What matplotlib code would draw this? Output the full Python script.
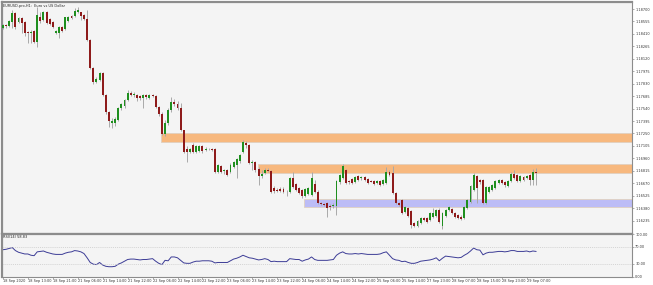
import numpy as np
import matplotlib
matplotlib.use("Agg")
import matplotlib.pyplot as plt

# EURUSD H1 candles
opens = [1.1848, 1.1851, 1.1850, 1.1855, 1.1865, 1.1855, 1.1860, 1.1855, 1.1843, 1.1842,
         1.1844, 1.1832, 1.1861, 1.1857, 1.1866, 1.1858, 1.1855, 1.1842, 1.1842, 1.1849,
         1.1847, 1.1856, 1.1862, 1.1862, 1.1866, 1.1866, 1.1863, 1.1858, 1.1834, 1.1801,
         1.1785, 1.1787, 1.1796, 1.1770, 1.1750, 1.1737, 1.1737, 1.1741, 1.1755, 1.1757,
         1.1764, 1.1772, 1.1770, 1.1770, 1.1769, 1.1766, 1.1770, 1.1766, 1.1770, 1.1769,
         1.1756, 1.1748, 1.1724, 1.1737, 1.1752, 1.1762, 1.1759, 1.1755, 1.1729, 1.1707,
         1.1703, 1.1712, 1.1703, 1.1705, 1.1710, 1.1706, 1.1707, 1.1707, 1.1707, 1.1680,
         1.1687, 1.1681, 1.1682, 1.1680, 1.1686, 1.1688, 1.1693, 1.1703, 1.1714, 1.1712,
         1.1691, 1.1692, 1.1684, 1.1675, 1.1679, 1.1682, 1.1681, 1.1661, 1.1659, 1.1660,
         1.1660, 1.1658, 1.1657, 1.1673, 1.1666, 1.1661, 1.1659, 1.1652, 1.1654, 1.1653,
         1.1666, 1.1657, 1.1644, 1.1643, 1.1644, 1.1640, 1.1640, 1.1640, 1.1668, 1.1673,
         1.1682, 1.1670, 1.1672, 1.1668, 1.1675, 1.1673, 1.1674, 1.1672, 1.1670, 1.1670,
         1.1667, 1.1670, 1.1666, 1.1667, 1.1680, 1.1679, 1.1656, 1.1644, 1.1647, 1.1633,
         1.1638, 1.1635, 1.1621, 1.1617, 1.1621, 1.1626, 1.1626, 1.1624, 1.1628, 1.1629,
         1.1636, 1.1617, 1.1629, 1.1636, 1.1637, 1.1632, 1.1630, 1.1628, 1.1626, 1.1638,
         1.1645, 1.1659, 1.1675, 1.1671, 1.1671, 1.1644, 1.1657, 1.1659, 1.1661, 1.1667,
         1.1671, 1.1668, 1.1664, 1.1670, 1.1678, 1.1677, 1.1670, 1.1674, 1.1673, 1.1677,
         1.1671, 1.1680]
highs = [1.1853, 1.1853, 1.1857, 1.1869, 1.1866, 1.1861, 1.1861, 1.1856, 1.1844, 1.1846,
         1.1846, 1.1872, 1.1866, 1.1868, 1.1868, 1.1860, 1.1856, 1.1846, 1.1850, 1.1850,
         1.1861, 1.1862, 1.1863, 1.1871, 1.1872, 1.1867, 1.1864, 1.1869, 1.1835, 1.1802,
         1.1791, 1.1797, 1.1797, 1.1771, 1.1751, 1.1743, 1.1744, 1.1756, 1.1760, 1.1765,
         1.1776, 1.1774, 1.1773, 1.1771, 1.1770, 1.1771, 1.1771, 1.1771, 1.1771, 1.1770,
         1.1757, 1.1750, 1.1741, 1.1755, 1.1768, 1.1765, 1.1763, 1.1760, 1.1729, 1.1710,
         1.1708, 1.1714, 1.1712, 1.1712, 1.1712, 1.1709, 1.1708, 1.1708, 1.1708, 1.1689,
         1.1688, 1.1684, 1.1684, 1.1691, 1.1693, 1.1696, 1.1701, 1.1717, 1.1716, 1.1713,
         1.1694, 1.1693, 1.1686, 1.1682, 1.1685, 1.1685, 1.1682, 1.1664, 1.1661, 1.1663,
         1.1663, 1.1659, 1.1674, 1.1680, 1.1667, 1.1663, 1.1660, 1.1661, 1.1663, 1.1680,
         1.1671, 1.1659, 1.1645, 1.1644, 1.1645, 1.1643, 1.1644, 1.1671, 1.1678, 1.1689,
         1.1684, 1.1671, 1.1673, 1.1675, 1.1677, 1.1675, 1.1675, 1.1673, 1.1671, 1.1671,
         1.1671, 1.1671, 1.1672, 1.1686, 1.1682, 1.1687, 1.1657, 1.1645, 1.1649, 1.1640,
         1.1639, 1.1636, 1.1622, 1.1624, 1.1628, 1.1628, 1.1628, 1.1633, 1.1638, 1.1637,
         1.1638, 1.1633, 1.1637, 1.1640, 1.1638, 1.1633, 1.1631, 1.1630, 1.1640, 1.1649,
         1.1665, 1.1679, 1.1677, 1.1672, 1.1672, 1.1664, 1.1664, 1.1666, 1.1671, 1.1672,
         1.1672, 1.1670, 1.1671, 1.1680, 1.1682, 1.1678, 1.1677, 1.1675, 1.1677, 1.1678,
         1.1684, 1.1685]
lows = [1.1847, 1.1848, 1.1849, 1.1848, 1.1847, 1.1854, 1.1842, 1.1839, 1.1830, 1.1830,
        1.1830, 1.1826, 1.1854, 1.1856, 1.1853, 1.1851, 1.1848, 1.1841, 1.1836, 1.1843,
        1.1846, 1.1855, 1.1858, 1.1861, 1.1865, 1.1857, 1.1857, 1.1833, 1.1800, 1.1783,
        1.1784, 1.1786, 1.1769, 1.1748, 1.1732, 1.1731, 1.1734, 1.1740, 1.1752, 1.1755,
        1.1763, 1.1769, 1.1768, 1.1763, 1.1764, 1.1755, 1.1765, 1.1765, 1.1768, 1.1755,
        1.1745, 1.1723, 1.1722, 1.1735, 1.1750, 1.1757, 1.1752, 1.1728, 1.1702, 1.1692,
        1.1702, 1.1702, 1.1702, 1.1703, 1.1702, 1.1705, 1.1706, 1.1705, 1.1679, 1.1679,
        1.1679, 1.1678, 1.1675, 1.1679, 1.1685, 1.1673, 1.1691, 1.1702, 1.1708, 1.1689,
        1.1682, 1.1680, 1.1665, 1.1673, 1.1678, 1.1680, 1.1656, 1.1656, 1.1657, 1.1657,
        1.1656, 1.1652, 1.1656, 1.1661, 1.1658, 1.1654, 1.1650, 1.1651, 1.1653, 1.1652,
        1.1656, 1.1643, 1.1642, 1.1640, 1.1628, 1.1636, 1.1638, 1.1630, 1.1666, 1.1672,
        1.1666, 1.1666, 1.1666, 1.1667, 1.1670, 1.1671, 1.1670, 1.1666, 1.1668, 1.1665,
        1.1666, 1.1664, 1.1665, 1.1666, 1.1675, 1.1654, 1.1643, 1.1640, 1.1631, 1.1632,
        1.1628, 1.1615, 1.1616, 1.1616, 1.1620, 1.1623, 1.1621, 1.1623, 1.1626, 1.1628,
        1.1621, 1.1614, 1.1628, 1.1635, 1.1631, 1.1626, 1.1625, 1.1624, 1.1625, 1.1637,
        1.1644, 1.1658, 1.1644, 1.1666, 1.1643, 1.1643, 1.1656, 1.1658, 1.1660, 1.1666,
        1.1666, 1.1663, 1.1663, 1.1668, 1.1672, 1.1668, 1.1668, 1.1670, 1.1672, 1.1665,
        1.1665, 1.1665]
closes = [1.1851, 1.1850, 1.1856, 1.1865, 1.1849, 1.1860, 1.1854, 1.1842, 1.1842, 1.1843,
          1.1832, 1.1863, 1.1856, 1.1866, 1.1854, 1.1853, 1.1849, 1.1844, 1.1849, 1.1844,
          1.1861, 1.1861, 1.1860, 1.1868, 1.1869, 1.1862, 1.1858, 1.1834, 1.1801, 1.1785,
          1.1789, 1.1796, 1.1770, 1.1750, 1.1740, 1.1740, 1.1742, 1.1755, 1.1759, 1.1764,
          1.1772, 1.1770, 1.1771, 1.1766, 1.1766, 1.1770, 1.1768, 1.1770, 1.1769, 1.1756,
          1.1748, 1.1724, 1.1737, 1.1752, 1.1762, 1.1759, 1.1755, 1.1729, 1.1703, 1.1703,
          1.1707, 1.1703, 1.1710, 1.1710, 1.1705, 1.1707, 1.1707, 1.1706, 1.1680, 1.1688,
          1.1680, 1.1682, 1.1677, 1.1688, 1.1692, 1.1695, 1.1700, 1.1715, 1.1712, 1.1691,
          1.1692, 1.1682, 1.1675, 1.1678, 1.1682, 1.1681, 1.1657, 1.1658, 1.1658, 1.1658,
          1.1657, 1.1658, 1.1673, 1.1663, 1.1659, 1.1656, 1.1652, 1.1660, 1.1661, 1.1673,
          1.1657, 1.1644, 1.1643, 1.1642, 1.1638, 1.1639, 1.1642, 1.1670, 1.1677, 1.1687,
          1.1667, 1.1668, 1.1667, 1.1674, 1.1671, 1.1674, 1.1671, 1.1667, 1.1669, 1.1666,
          1.1670, 1.1665, 1.1671, 1.1680, 1.1677, 1.1656, 1.1644, 1.1642, 1.1632, 1.1639,
          1.1629, 1.1618, 1.1617, 1.1623, 1.1626, 1.1624, 1.1622, 1.1632, 1.1632, 1.1636,
          1.1622, 1.1632, 1.1636, 1.1639, 1.1632, 1.1628, 1.1626, 1.1625, 1.1639, 1.1647,
          1.1664, 1.1677, 1.1661, 1.1668, 1.1644, 1.1663, 1.1663, 1.1665, 1.1670, 1.1671,
          1.1667, 1.1665, 1.1670, 1.1678, 1.1673, 1.1670, 1.1675, 1.1671, 1.1675, 1.1671,
          1.1680, 1.1679]

# RSI(14) line
rsi = [63, 64, 66, 68, 61, 57, 55, 53, 53, 50, 49, 58, 59, 60, 57, 55, 53, 52, 52, 52,
       55, 57, 58, 61, 60, 58, 54, 44, 33, 29, 28, 33, 27, 24, 23, 23, 24, 29, 32, 36,
       40, 41, 41, 40, 39, 40, 40, 41, 42, 36, 31, 28, 38, 37, 46, 46, 44, 38, 32, 31,
       31, 34, 36, 36, 37, 37, 37, 36, 32, 33, 33, 33, 33, 37, 41, 43, 46, 50, 47, 44,
       43, 41, 39, 40, 42, 40, 35, 36, 35, 35, 35, 35, 42, 41, 40, 40, 36, 39, 41, 46,
       40, 38, 38, 38, 38, 39, 40, 50, 55, 58, 54, 53, 53, 54, 53, 54, 53, 52, 52, 52,
       52, 53, 56, 58, 50, 42, 39, 38, 35, 36, 33, 31, 31, 33, 36, 37, 38, 39, 41, 44,
       37, 43, 48, 47, 46, 45, 44, 45, 50, 54, 60, 67, 63, 62, 51, 55, 57, 57, 58, 59,
       59, 58, 59, 61, 61, 59, 59, 59, 60, 58, 60, 59]

# supply / demand zones: start bar, lower price, upper price
zone_start = [50.6, 81.8, 96.6]
zone_low = [1.17151, 1.16790, 1.16394]
zone_high = [1.17256, 1.16895, 1.16487]
zone_colors = ["#f7b87e", "#f7b87e", "#bcbcf6"]

price_ticks = [1.18700, 1.18555, 1.18410, 1.18265, 1.18120, 1.17975, 1.17830, 1.17685,
               1.17540, 1.17395, 1.17250, 1.17105, 1.16960, 1.16815, 1.16670, 1.16525,
               1.16380, 1.16235]
rsi_ticks = [100, 70, 30, 0]
time_labels = ["18 Sep 2020", "18 Sep 13:00", "18 Sep 21:00", "21 Sep 06:00", "21 Sep 14:00",
               "21 Sep 22:00", "22 Sep 06:00", "22 Sep 14:00", "22 Sep 22:00", "23 Sep 06:00",
               "23 Sep 14:00", "23 Sep 22:00", "24 Sep 06:00", "24 Sep 14:00", "24 Sep 22:00",
               "25 Sep 06:00", "25 Sep 14:00", "27 Sep 23:00", "28 Sep 07:00", "28 Sep 15:00",
               "28 Sep 23:00", "29 Sep 07:00"]

o = np.array(opens)
h = np.array(highs)
l = np.array(lows)
c = np.array(closes)
x = np.arange(len(c))

W, H = 653, 285
fig = plt.figure(figsize=(W / 100, H / 100), dpi=100, facecolor="white")
bg = "#f4f4f4"
grey = "#8c8c8c"
fs = 2.5

# main price panel
ax = fig.add_axes([2 / W, 1 - 233 / H, 630 / W, 231 / H], facecolor=bg)
# RSI panel
ax2 = fig.add_axes([2 / W, 1 - 276.5 / H, 630 / W, 42.5 / H], facecolor=bg)

xmax = 201.8
for a in (ax, ax2):
    a.set_xlim(-0.3, xmax)
    for s in a.spines.values():
        s.set_color(grey)
        s.set_linewidth(0.8)
    a.spines["top"].set_linewidth(1.6)
    a.spines["left"].set_linewidth(1.6)

ax.set_ylim(1.16090, 1.18782)

# zones
for s0, lo, hi, col in zip(zone_start, zone_low, zone_high, zone_colors):
    ax.fill_between([s0, xmax], lo, hi, color=col, lw=0.6, edgecolor="#e0d0c0", zorder=1)

# candles
up = c >= o
ax.vlines(x, l, h, color="#a9a9a9", lw=0.7, zorder=2)
body_lo = np.minimum(o, c)
body_h = np.maximum(np.abs(c - o), 0.00004)
ax.bar(x[up], body_h[up], bottom=body_lo[up], width=0.62, color="#1f8f1f", zorder=3)
ax.bar(x[~up], body_h[~up], bottom=body_lo[~up], width=0.62, color="#8e1b1b", zorder=3)

# price axis on the right
ax.yaxis.tick_right()
ax.set_yticks(price_ticks)
ax.set_yticklabels(["%.5f" % v for v in price_ticks], fontsize=fs, color="#333333")
ax.tick_params(axis="y", length=1.5, width=0.5, pad=0.8, colors=grey, labelcolor="#333333")
ax.set_xticks([])
ax.text(0.002, 0.993, "EURUSD.pro,H1:  Euro vs US Dollar", transform=ax.transAxes,
        fontsize=fs, color="#222222", va="top", ha="left")

# RSI
ax2.set_ylim(0, 100)
ax2.plot(x, rsi, color="#3c3c96", lw=0.7)
for lev in (70, 30):
    ax2.axhline(lev, color="#c8c8c8", lw=0.5, ls=(0, (1.5, 1.5)))
ax2.yaxis.tick_right()
ax2.set_yticks(rsi_ticks)
ax2.set_yticklabels(["%.2f" % v for v in rsi_ticks], fontsize=fs, color="#333333")
ax2.tick_params(axis="y", length=1.5, width=0.5, pad=0.8, colors=grey, labelcolor="#333333")
ax2.text(0.002, 0.97, "RSI(14) 58.83", transform=ax2.transAxes,
         fontsize=fs, color="#222222", va="top", ha="left")

# time axis
tick_pos = np.arange(len(time_labels)) * 8
ax2.set_xticks(tick_pos)
ax2.set_xticklabels(time_labels, fontsize=fs, color="#333333", ha="left")
ax2.tick_params(axis="x", length=1.5, width=0.5, pad=0.5, colors=grey, labelcolor="#333333")

fig.savefig("out.png", dpi=100, facecolor="white")
